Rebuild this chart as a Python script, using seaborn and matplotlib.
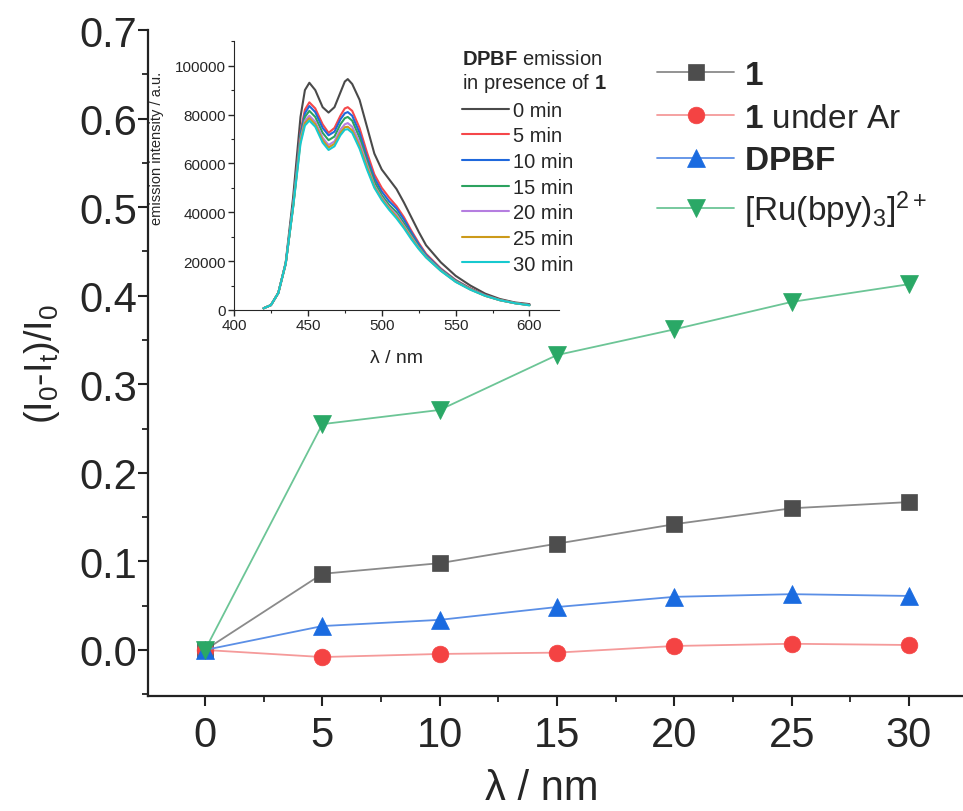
import numpy as np
import pandas as pd
import seaborn as sns
from matplotlib import pyplot as plt
from matplotlib.ticker import MultipleLocator

# main plot data
time_min = [0, 5, 10, 15, 20, 25, 30]
y_1 = [0.0, 0.086, 0.098, 0.120, 0.142, 0.160, 0.167]
y_1_ar = [0.0, -0.008, -0.0045, -0.003, 0.0045, 0.007, 0.0056]
y_dpbf = [0.0, 0.027, 0.034, 0.0485, 0.060, 0.063, 0.061]
y_ru = [0.0, 0.255, 0.271, 0.333, 0.362, 0.393, 0.413]

# inset spectra data
wl = [420, 425, 430, 435, 440, 445, 448, 451, 455, 460, 464, 468, 472, 475, 477, 480,
      485, 490, 495, 500, 505, 510, 515, 520, 525, 530, 540, 550, 560, 570, 580, 590, 600]
em_0 = [700, 2000, 7000, 19500, 46000, 79000, 90000, 93000, 90000, 83000, 80800, 83000, 89000, 93500, 94500, 92500,
        86000, 75000, 64000, 57500, 53500, 49500, 44000, 38000, 32000, 26500, 19500, 14000, 10000, 6700, 4500, 3100, 2400]
em_5 = [700, 2000, 7000, 19000, 43000, 73000, 82000, 85000, 82500, 76000, 72500, 74500, 79500, 82500, 83000, 81500,
        74500, 64500, 55500, 50000, 46000, 42500, 38000, 32500, 27500, 23000, 17000, 12300, 8900, 6100, 4200, 2900, 2200]
em_10 = [700, 2000, 7000, 19000, 43000, 72000, 80500, 83500, 81000, 74500, 71500, 73000, 78000, 80500, 81000, 79500,
         72500, 62500, 54000, 48500, 44500, 41500, 37000, 31800, 26900, 22500, 16700, 12100, 8700, 6000, 4100, 2850, 2100]
em_15 = [700, 2000, 7000, 19000, 42500, 71000, 79000, 81500, 79000, 72500, 69500, 71000, 76000, 78500, 79000, 77500,
         70500, 61000, 52500, 47000, 43000, 40000, 35500, 30700, 26000, 22000, 16400, 11900, 8600, 5900, 4050, 2800, 2050]
em_20 = [700, 2000, 7000, 19000, 42500, 70000, 77500, 79500, 77000, 70500, 67500, 69000, 73800, 76000, 76500, 75000,
         68500, 59500, 51000, 46000, 42000, 39000, 34500, 30000, 25500, 21800, 16200, 11700, 8500, 5850, 4000, 2800, 2000]
em_25 = [700, 2000, 7000, 19000, 42000, 69000, 76500, 78500, 76000, 69500, 66500, 68000, 72500, 74800, 75000, 73500,
         67000, 58500, 50500, 45500, 41500, 38200, 34000, 29500, 25200, 21600, 16100, 11600, 8400, 5800, 4000, 2800, 1950]
em_30 = [700, 2000, 7000, 19000, 42000, 68000, 75500, 77500, 75000, 68500, 65500, 67000, 71500, 73800, 74000, 72500,
         66000, 57500, 50000, 45000, 41000, 37500, 33500, 29000, 25000, 21500, 16000, 11500, 8300, 5800, 4000, 2800, 1900]
spec_labels = ['0 min', '5 min', '10 min', '15 min', '20 min', '25 min', '30 min']
spec_colors = ['#4a4a4a', '#f5474a', '#1f68dc', '#2ca25f', '#b57ee0', '#cc9a1a', '#17c9cf']

sns.set_style('ticks')
plt.rcParams['font.family'] = ['Liberation Sans', 'DejaVu Sans']
plt.rcParams['mathtext.fontset'] = 'custom'
plt.rcParams['mathtext.rm'] = 'Liberation Sans'
plt.rcParams['mathtext.it'] = 'Liberation Sans'
plt.rcParams['mathtext.bf'] = 'Liberation Sans:bold'
plt.rcParams['mathtext.default'] = 'regular'

fig = plt.figure(figsize=(9.63, 8.12), dpi=100)
ax = fig.add_axes([0.1537, 0.1416, 0.8463, 0.8202])

series = [
    (y_1, r'$\mathbf{1}$', 's', '#4d4d4d', '#8a8a8a', 11.5),
    (y_1_ar, r'$\mathbf{1}$ under Ar', 'o', '#f44343', '#f59a9a', 12),
    (y_dpbf, r'$\mathbf{DPBF}$', '^', '#1a6be0', '#5b8fe6', 13.5),
    (y_ru, r'[Ru(bpy)$_3$]$^{2+}$', 'v', '#2aa866', '#6cc596', 13.5),
]
for vals, lab, mk, mcol, lcol, ms in series:
    df = pd.DataFrame({'t': time_min, 'v': vals})
    sns.lineplot(data=df, x='t', y='v', ax=ax, color=lcol, lw=1.3, marker=mk,
                 markersize=ms, markerfacecolor=mcol, markeredgecolor=mcol,
                 markeredgewidth=0.5, label=lab)

ax.set_xlim(-2.43, 32.3)
ax.set_ylim(-0.052, 0.7)
ax.xaxis.set_major_locator(MultipleLocator(5))
ax.xaxis.set_minor_locator(MultipleLocator(2.5))
ax.yaxis.set_major_locator(MultipleLocator(0.1))
ax.yaxis.set_minor_locator(MultipleLocator(0.05))
ax.yaxis.set_major_formatter(plt.FormatStrFormatter('%.1f'))
ax.tick_params(which='major', direction='out', length=7, width=1.5, labelsize=30, color='#222222')
ax.tick_params(axis='y', which='major', pad=1)
ax.tick_params(axis='x', which='major', pad=7)
ax.tick_params(which='minor', direction='out', length=4, width=1.3, color='#222222')
sns.despine(ax=ax)
for sp in ['left', 'bottom']:
    ax.spines[sp].set_linewidth(1.6)
    ax.spines[sp].set_color('#222222')
ax.set_xlabel('λ / nm', fontsize=30)
ax.xaxis.set_label_coords(0.483, -0.108)
ax.set_ylabel(r'(I$_0$-I$_t$)/I$_0$', fontsize=27, labelpad=12)

leg = ax.legend(loc='upper left', bbox_to_anchor=(0.588, 1.0), frameon=False, fontsize=24,
                handlelength=2.3, handletextpad=0.3, labelspacing=0.35)

# inset
ins = fig.add_axes([0.243, 0.617, 0.3375, 0.331])
spec = [em_0, em_5, em_10, em_15, em_20, em_25, em_30]
for vals, lab, col in zip(spec, spec_labels, spec_colors):
    sdf = pd.DataFrame({'wl': wl, 'em': vals})
    sns.lineplot(data=sdf, x='wl', y='em', ax=ins, color=col, lw=1.5, label=lab)
ins.set_xlim(400, 620)
ins.set_ylim(0, 110000)
ins.xaxis.set_major_locator(MultipleLocator(50))
ins.xaxis.set_minor_locator(MultipleLocator(25))
ins.yaxis.set_major_locator(MultipleLocator(20000))
ins.yaxis.set_minor_locator(MultipleLocator(10000))
ins.tick_params(which='major', direction='out', length=4, width=1, labelsize=11, pad=2)
ins.tick_params(which='minor', direction='out', length=2, width=0.8)
sns.despine(ax=ins)
ins.patch.set_alpha(0)
ins.set_xlabel('λ / nm', fontsize=14, labelpad=12)
ins.set_ylabel('emission intensity / a.u.', fontsize=10.5)
ins.yaxis.set_label_coords(-0.215, 0.606)
ileg = ins.legend(loc='upper left', bbox_to_anchor=(0.645, 1.04), frameon=False, fontsize=14.5,
                  handlelength=2.35, handletextpad=0.2, labelspacing=0.33,
                  title=r'$\mathbf{DPBF}$ emission' + '\n' + r'in presence of $\mathbf{1}$',
                  title_fontsize=14.5, alignment='left')

fig.savefig('out.png', dpi=100)
